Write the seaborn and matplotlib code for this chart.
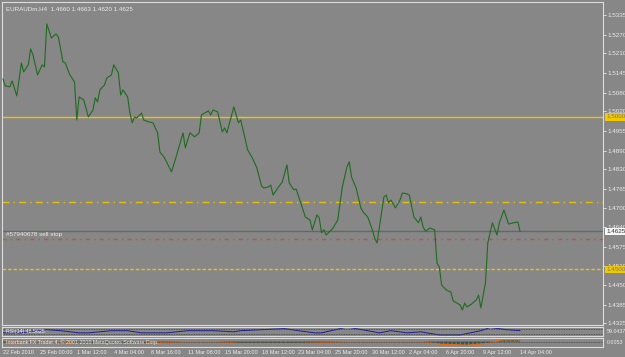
import matplotlib
matplotlib.use("Agg")
import matplotlib.pyplot as plt
import matplotlib.transforms as mtransforms
import seaborn as sns
import pandas as pd

# ---------------- data ----------------
bars = [0, 1, 3, 4, 6, 7, 8, 9, 11, 12, 13, 15, 17, 18, 19, 21, 23, 24, 26, 27,
        29, 31, 32, 33, 35, 37, 39, 40, 41, 42, 44, 45, 47, 48, 50, 51, 52, 54, 55, 56,
        57, 58, 60, 61, 63, 65, 67, 68, 70, 73, 75, 78, 79, 81, 83, 85, 86, 89, 90, 91,
        93, 95, 96, 97, 100, 102, 103, 104, 106, 108, 110, 112, 113, 115, 116, 117, 119, 121, 123, 124,
        126, 127, 129, 131, 133, 134, 136, 137, 138, 139, 140, 143, 145, 147, 149, 150, 151, 153, 155, 156,
        158, 160, 161, 162, 163, 165, 166, 167, 168, 170, 172, 173, 175, 176, 178, 180, 181, 182, 183, 185,
        187, 188, 189, 190, 192, 194, 195, 198, 199, 200, 201, 203, 205, 206, 207, 209, 210, 212, 214, 215,
        217, 219, 221, 223, 224]
close = [1.5125, 1.5102, 1.5099, 1.5118, 1.5069, 1.5122, 1.5177, 1.5148, 1.5171, 1.5223,
         1.5204, 1.5138, 1.5171, 1.5164, 1.5305, 1.5259, 1.5272, 1.5263, 1.5181, 1.5177,
         1.5138, 1.5115, 1.4990, 1.5066, 1.5056, 1.5000, 1.5023, 1.5063, 1.5049, 1.5089,
         1.5105, 1.5128, 1.5138, 1.5171, 1.5145, 1.5072, 1.5089, 1.5066, 1.5013, 1.4981,
         1.5000, 1.4997, 1.5013, 1.4990, 1.4984, 1.4981, 1.4948, 1.4885, 1.4866, 1.4820,
         1.4869, 1.4948, 1.4899, 1.4948, 1.4935, 1.4948, 1.5007, 1.5020, 1.5007, 1.5023,
         1.5017, 1.4951, 1.4964, 1.4948, 1.5033, 1.4981, 1.4990, 1.4958, 1.4892, 1.4866,
         1.4833, 1.4774, 1.4767, 1.4771, 1.4777, 1.4744, 1.4767, 1.4787, 1.4843, 1.4784,
         1.4761, 1.4764, 1.4718, 1.4672, 1.4662, 1.4630, 1.4679, 1.4669, 1.4620, 1.4630,
         1.4613, 1.4636, 1.4662, 1.4771, 1.4836, 1.4853, 1.4803, 1.4767, 1.4702, 1.4689,
         1.4672, 1.4630, 1.4603, 1.4587, 1.4636, 1.4738, 1.4744, 1.4718, 1.4728, 1.4702,
         1.4728, 1.4751, 1.4748, 1.4744, 1.4672, 1.4653, 1.4672, 1.4639, 1.4626, 1.4636,
         1.4630, 1.4521, 1.4508, 1.4449, 1.4433, 1.4426, 1.4397, 1.4384, 1.4367, 1.4390,
         1.4377, 1.4387, 1.4400, 1.4416, 1.4374, 1.4456, 1.4587, 1.4653, 1.4613, 1.4653,
         1.4695, 1.4649, 1.4653, 1.4656, 1.4625]

price_ticks = [1.5335, 1.5270, 1.5210, 1.5145, 1.5080, 1.5020, 1.4955, 1.4890, 1.4830,
               1.4765, 1.4700, 1.4640, 1.4575, 1.4510, 1.4450, 1.4385, 1.4325]

level_prices = [1.5000, 1.4720, 1.4625, 1.4600, 1.4500]
level_colors = ["#f2c400", "#e8c000", "#666666", "#cc4a4a", "#f0c400"]
level_styles = ["-", (0, (5, 3, 1, 3)), "-", (0, (3, 3, 1, 3)), (0, (2.5, 1.5))]

time_tick_bars = [0, 16, 32, 48, 64, 80, 96, 112, 128, 144, 160, 176, 192, 208, 224]
time_tick_labels = ["22 Feb 2010", "25 Feb 00:00", "1 Mar 12:00", "4 Mar 04:00", "8 Mar 16:00",
                    "11 Mar 08:00", "15 Mar 20:00", "18 Mar 12:00", "23 Mar 04:00",
                    "25 Mar 20:00", "30 Mar 12:00", "2 Apr 04:00", "6 Apr 20:00",
                    "9 Apr 12:00", "14 Apr 04:00"]

osc_bars = [0, 8, 14, 19, 25, 33, 37, 47, 54, 60, 71, 80, 91, 100, 103, 122, 128, 135,
            138, 149, 158, 163, 168, 175, 181, 189, 198, 207, 211, 218, 224]
osc_vals = [33, 33, 56, 67, 56, 33, 33, 56, 56, 33, 33, 56, 56, 44, 56, 78, 56, 33,
            33, 94, 56, 33, 56, 33, 44, 11, 11, 56, 89, 67, 56]

macd_bars = [0, 8, 24, 32, 57, 71, 80, 91, 103, 117, 129, 150, 172, 181, 190, 201, 210, 216, 224]
macd_vals = [-2, 0, 0, -2, -2, -1, 0, 0, -2, -2, -2, 0, 0, 0, -3, -4, -2, 2, 2]

# ---------------- figure ----------------
W, H = 625, 357
BG = "#878787"
sns.set_theme(style="white")
plt.rcParams["font.family"] = ["Liberation Sans Narrow", "Liberation Sans", "DejaVu Sans"]
fig = plt.figure(figsize=(W / 100, H / 100), dpi=100, facecolor=BG)


def box(x0, y0, x1, y1):
    return [x0 / W, 1 - y1 / H, (x1 - x0) / W, (y1 - y0) / H]


TXT = "#ececec"
FS = 4.5
FS_T = 4.0
FS_S = 3.8
LW = 0.8

# main price panel
ax = fig.add_axes(box(2, 2, 603, 325))
ax.set_facecolor(BG)
df = pd.DataFrame({"bar": bars, "close": close})
sns.lineplot(data=df, x="bar", y="close", ax=ax, color="#1f6b1f", linewidth=0.8, zorder=3)
ax.set_xlim(-0.4, 259.9)
ax.set_ylim(1.4318, 1.5377)
for p, c, s in zip(level_prices, level_colors, level_styles):
    ax.axhline(p, color=c, linestyle=s, linewidth=1.0, zorder=1)
ax.yaxis.tick_right()
ax.set_yticks(price_ticks)
ax.set_yticklabels([f"{t:.4f}" for t in price_ticks])
ax.tick_params(axis="y", colors=TXT, labelsize=FS, length=2, width=0.6, pad=1.0, right=True)
ax.set_xticks([])
ax.set_xlabel("")
ax.set_ylabel("")
for sp in ax.spines.values():
    sp.set_color("#dcdcdc")
    sp.set_linewidth(LW)

trans = mtransforms.blended_transform_factory(ax.transAxes, ax.transData)
box_kw = dict(fontsize=FS, va="center", ha="left", transform=trans, zorder=5)
ax.text(1.0055, level_prices[0], "1.5000", color="#777777",
        bbox=dict(boxstyle="square,pad=0.2", fc="#f2c800", ec="none"), **box_kw)
ax.text(1.0055, level_prices[2], "1.4625", color="#303030",
        bbox=dict(boxstyle="square,pad=0.2", fc="#f6f6f6", ec="none"), **box_kw)
ax.text(1.0055, level_prices[4], "1.4500", color="#777777",
        bbox=dict(boxstyle="square,pad=0.2", fc="#f2c800", ec="none"), **box_kw)

ax.text(0.006, 0.988, "EURAUDm,H4  1.4660 1.4663 1.4620 1.4625", transform=ax.transAxes,
        fontsize=FS, color=TXT, va="top", ha="left")
ax.text(0.006, level_prices[3] + 0.0007, "#57940678 sell stop", transform=trans,
        fontsize=FS, color=TXT, va="bottom", ha="left")

# oscillator panel
ax1 = fig.add_axes(box(2, 326.5, 603, 336))
ax1.set_facecolor(BG)
sns.lineplot(x=osc_bars, y=osc_vals, ax=ax1, color="#1c1c9a", linewidth=0.7)
ax1.set_xlim(-0.4, 259.9)
ax1.set_ylim(0, 100)
for lv in (70, 20):
    ax1.axhline(lv, color="#404040", linestyle=(0, (1, 1)), linewidth=0.6)
ax1.set_xticks([])
ax1.set_yticks([])
for sp in ax1.spines.values():
    sp.set_color("#dcdcdc")
    sp.set_linewidth(LW)
ax1.text(0.006, 0.5, "RSI(14) 46.5625", transform=ax1.transAxes, fontsize=FS_S,
         color=TXT, va="center", ha="left")
ax1.text(1.0055, 0.5, "59.0437", transform=ax1.transAxes, fontsize=FS_S,
         color=TXT, va="center", ha="left")

# histogram / signal panel
ax2 = fig.add_axes(box(2, 337.5, 603, 347))
ax2.set_facecolor(BG)
ax2.fill_between(macd_bars, 0, macd_vals, color="#2f5a55", linewidth=0, hatch="||||",
                 edgecolor="#5c8c80")
sns.lineplot(x=macd_bars, y=macd_vals, ax=ax2, color="#e86a10", linewidth=0.9)
ax2.axhline(0, color="#404040", linestyle=(0, (1, 1)), linewidth=0.6)
ax2.set_xlim(-0.4, 259.9)
ax2.set_ylim(-6, 4.5)
ax2.set_yticks([])
ax2.set_xticks(time_tick_bars)
ax2.set_xticklabels(time_tick_labels, ha="left")
ax2.tick_params(axis="x", colors=TXT, labelsize=FS_T, length=0, pad=2.5)
for sp in ax2.spines.values():
    sp.set_color("#dcdcdc")
    sp.set_linewidth(LW)
ax2.text(0.006, 0.5, "Interbank FX Trader 4, \u00a9 2001-2010 MetaQuotes Software Corp.",
         transform=ax2.transAxes, fontsize=FS_S, color=TXT, va="center", ha="left")
ax2.text(1.0055, 0.5, "0.0053", transform=ax2.transAxes, fontsize=FS_S,
         color=TXT, va="center", ha="left")

fig.savefig("out.png", dpi=100, facecolor=BG)
